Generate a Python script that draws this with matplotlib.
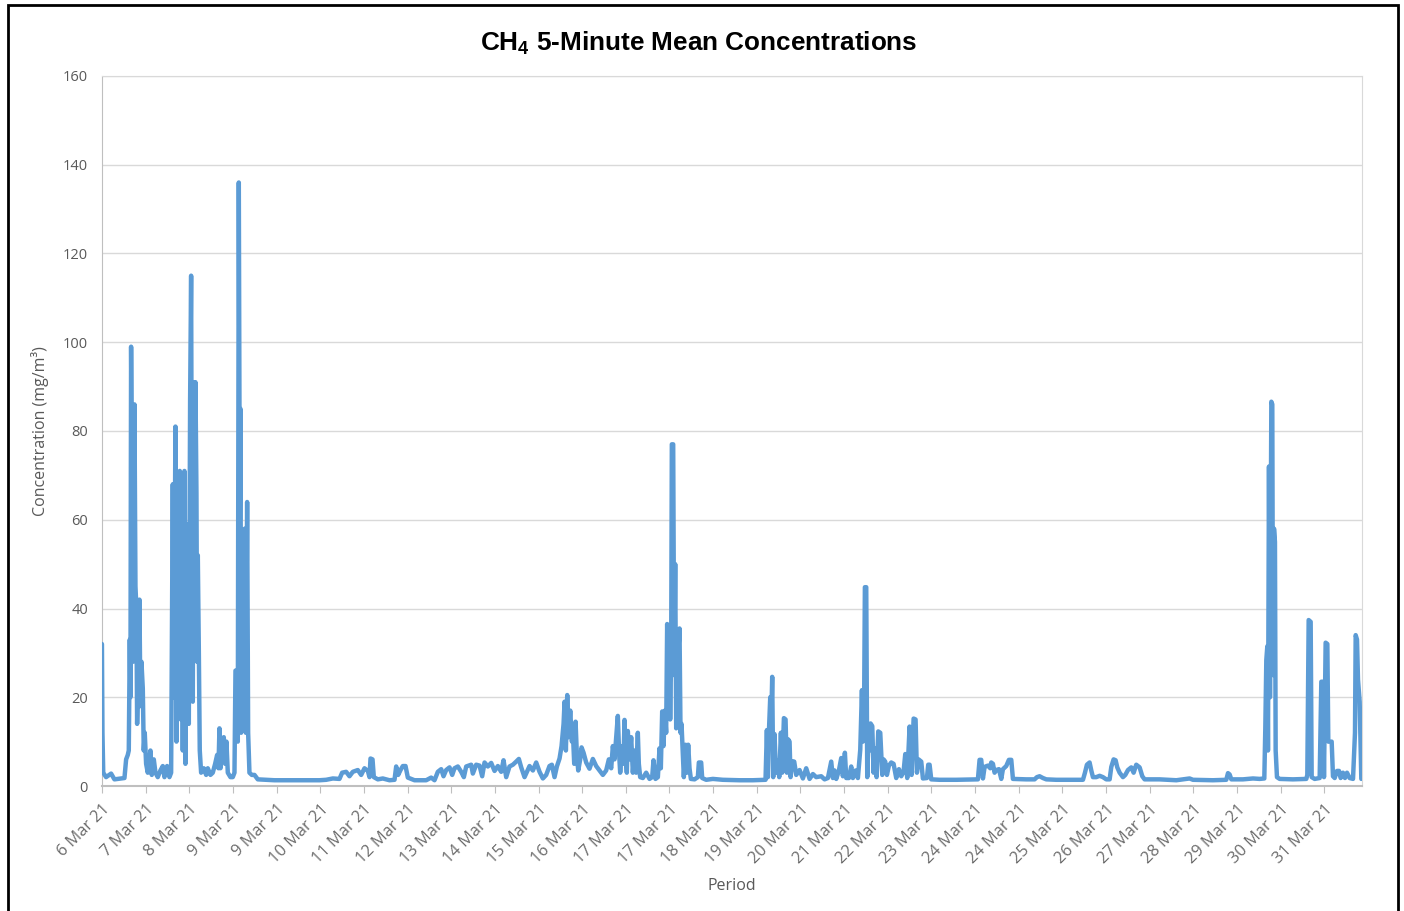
import matplotlib
matplotlib.use("Agg")
from matplotlib import pyplot as plt
from matplotlib.patches import Rectangle
import numpy as np

# x positions are in axis-label units (one unit per date label), values in mg/m3
pos_a = [0.0, 0.012, 0.030, 0.095, 0.210, 0.286, 0.516, 0.554, 0.592, 0.615, 0.638, 0.653, 0.668, 0.691,
         0.714, 0.745, 0.768, 0.790, 0.806, 0.836, 0.859, 0.882, 0.905, 0.936, 0.958, 0.981, 1.012, 1.050,
         1.088, 1.111, 1.142, 1.188, 1.226, 1.279, 1.340, 1.394, 1.432, 1.493, 1.546, 1.585, 1.623, 1.646,
         1.684, 1.707, 1.737, 1.760, 1.783, 1.806, 1.829, 1.852, 1.890, 1.913, 1.944, 1.967, 1.990, 2.020,
         2.043, 2.066, 2.081, 2.104, 2.127, 2.142, 2.165, 2.180, 2.196, 2.219, 2.241, 2.272, 2.333, 2.387,
         2.425, 2.486, 2.539, 2.593, 2.639, 2.669, 2.692, 2.715, 2.753, 2.791, 2.822, 2.852, 2.883, 2.944,
         2.997, 3.036, 3.059, 3.089, 3.112, 3.135, 3.158, 3.173, 3.188, 3.211, 3.234, 3.249, 3.272, 3.295,
         3.326, 3.349, 3.379, 3.433, 3.494, 3.570, 3.952]
conc_a = [32, 12, 3, 2, 2.8, 1.5, 1.8, 6, 7, 8, 33, 20, 99, 60,
          28, 86, 45, 40, 14, 28, 42, 18, 28, 22, 8, 12, 5, 3,
          6, 8, 2.5, 6, 3, 2, 3.5, 4.5, 2, 4.5, 2, 3, 68, 20,
          81, 10, 47, 17, 71, 15, 47, 8, 71, 5, 40, 59, 14, 87,
          115, 30, 19, 91, 40, 91, 66, 28, 52, 31, 8, 3, 4, 2.5,
          4, 2.5, 3, 5, 7, 4, 13, 4, 8, 11, 5, 10, 3, 2,
          2, 3, 26, 26, 10, 136, 60, 85, 12, 40, 50, 13, 58, 12,
          64, 12, 3, 2.5, 2.5, 1.5, 1.3]

pos_b = [4.983, 5.136, 5.289, 5.441, 5.502, 5.594, 5.670, 5.747, 5.861, 5.938, 6.014, 6.091, 6.129, 6.152,
         6.198, 6.228, 6.320, 6.434, 6.587, 6.702, 6.740, 6.786, 6.839, 6.893, 6.954, 7.007, 7.160, 7.427,
         7.542, 7.618, 7.694, 7.771, 7.824, 7.885, 7.962, 8.023, 8.076, 8.153, 8.229, 8.290, 8.344, 8.458,
         8.496, 8.573, 8.649, 8.710, 8.764, 8.840, 8.916, 8.993, 9.069, 9.145, 9.199, 9.260, 9.336, 9.413,
         9.489, 9.550, 9.604, 9.680, 9.795, 9.871, 9.947, 10.024, 10.100, 10.176, 10.252, 10.306, 10.367,
         10.421, 10.482, 10.528, 10.574, 10.597, 10.627, 10.658, 10.688, 10.727, 10.765, 10.788, 10.818,
         10.849, 10.879, 10.910, 10.955, 10.986, 11.032]
conc_b = [1.3, 1.4, 1.7, 1.6, 3.0, 3.2, 2.2, 3.2, 3.6, 2.5, 4.0, 3.4, 2, 6.2,
          6, 2, 1.5, 1.7, 1.3, 1.4, 4.4, 2.5, 3.6, 4.5, 4.5, 1.9, 1.3, 1.3,
          1.9, 1.3, 3.2, 3.8, 2.2, 3.6, 4.2, 2.5, 4.0, 4.4, 3.2, 2.0, 4.4, 4.8,
          2.8, 4.8, 4.6, 2.2, 5.3, 4.4, 5.2, 3.4, 4.5, 3.2, 5.8, 2, 4.4, 4.8,
          5.5, 6.1, 4.2, 2, 4.5, 3.5, 5.3, 3.2, 1.7, 2.5, 4.5, 4.8, 2,
          4.4, 6.2, 9, 14, 19, 8, 20.5, 11, 17, 10, 12, 5,
          14.5, 7, 3.5, 6, 8.7, 7.5]

pos_c = [11.092, 11.168, 11.245, 11.321, 11.397, 11.474, 11.550, 11.611, 11.665, 11.703, 11.741, 11.779,
         11.817, 11.848, 11.871, 11.917, 11.947, 11.970, 11.993, 12.023, 12.046, 12.085, 12.123, 12.161,
         12.199, 12.237, 12.275, 12.298, 12.329, 12.390, 12.466, 12.543, 12.604, 12.634, 12.680, 12.734,
         12.772, 12.802, 12.833, 12.863, 12.894, 12.924, 12.947, 12.970, 12.993, 13.016, 13.039, 13.054,
         13.085, 13.108, 13.131, 13.154, 13.177, 13.207, 13.230, 13.253, 13.276, 13.299, 13.329, 13.368,
         13.398, 13.429, 13.459, 13.490, 13.574, 13.650, 13.673, 13.726, 13.749, 13.841, 13.994, 14.223,
         14.605]
conc_c = [5.3, 3.9, 6.1, 4.5, 3.5, 2.5, 3.5, 6, 4, 9, 6, 11,
          15.8, 7, 3, 9, 5, 14.9, 8, 3, 12.4, 6, 11, 3,
          8, 3, 12, 5, 2, 1.8, 3, 1.6, 2, 5.8, 1.6, 2,
          8.5, 4, 16.8, 9, 17, 12, 36.5, 20, 36, 15, 30, 77,
          77, 25, 50, 13, 25, 31, 35.5, 12, 14, 9, 2, 9.3,
          3, 9.3, 4, 1.6, 1.5, 2, 5.3, 5.3, 1.8, 1.4, 1.6, 1.4,
          1.3]

pos_d = [14.910, 15.200, 15.231, 15.254, 15.277, 15.308, 15.330, 15.353, 15.376, 15.407, 15.437, 15.483,
         15.514, 15.552, 15.582, 15.621, 15.659, 15.689, 15.720, 15.751, 15.773, 15.812, 15.857, 15.903,
         15.980, 16.056, 16.132, 16.209, 16.285, 16.361, 16.476, 16.552, 16.629, 16.705, 16.743, 16.781,
         16.820, 16.881, 16.934, 16.972, 17.018, 17.049, 17.110, 17.163, 17.201, 17.262, 17.316, 17.370,
         17.408, 17.431, 17.454, 17.476, 17.507, 17.530, 17.561, 17.583, 17.606, 17.645, 17.675, 17.706,
         17.744, 17.782, 17.828, 17.874, 17.904, 17.942, 17.981, 18.026, 18.080, 18.133, 18.194, 18.256,
         18.309, 18.362, 18.401, 18.446, 18.500, 18.523, 18.546, 18.592, 18.637, 18.668, 18.706, 18.767,
         18.805, 18.897, 18.927, 18.958, 18.996, 19.187, 19.569]
conc_d = [1.3, 1.4, 12.6, 2, 12, 20, 14, 24.6, 2, 11.7, 3, 5.8,
          2, 12, 3, 15.3, 15, 3, 10.5, 10, 2, 5.6, 5.5, 2.5,
          3.6, 1.7, 4, 1.6, 2.7, 2, 2.2, 1.5, 1.8, 5.5, 1.8, 3.5,
          1.6, 3.5, 6.3, 2.2, 7.5, 1.8, 1.8, 4.4, 1.8, 3.5, 1.8, 8.2,
          21.6, 10, 12, 44.8, 44.8, 2, 12.3, 8, 14.1, 13.5, 3, 8.5,
          2, 12.3, 12, 2.5, 6, 5.5, 2.5, 4.6, 5.3, 5, 1.8, 3.8,
          2.2, 3.2, 7.2, 1.8, 13.4, 4, 2.5, 15.2, 15, 3, 6, 5.5,
          1.7, 1.8, 4.8, 4.8, 1.5, 1.4, 1.4]

pos_e = [20.065, 20.103, 20.141, 20.180, 20.218, 20.294, 20.348, 20.370, 20.409, 20.447, 20.485, 20.546,
         20.600, 20.638, 20.714, 20.775, 20.829, 20.867, 21.172, 21.363, 21.417, 21.478, 21.554, 21.631,
         21.860, 22.471, 22.517, 22.562, 22.623, 22.662, 22.700, 22.776, 22.853, 22.929, 23.005, 23.082,
         23.120, 23.173, 23.219, 23.257, 23.311, 23.387, 23.441, 23.502, 23.578, 23.632, 23.692, 23.769,
         23.830, 23.883, 24.227, 24.609, 24.914, 24.991, 25.449, 25.754, 25.793, 25.831, 25.869, 26.136]
conc_e = [1.5, 5.9, 5.9, 1.7, 4.3, 4.6, 4, 5.3, 5, 3, 3.6, 3.8,
          1.6, 3.8, 4.5, 5.9, 5.9, 1.6, 1.5, 1.5, 2, 2.2, 1.8, 1.5,
          1.4, 1.4, 3, 4.8, 5.3, 3.5, 2, 2, 2.3, 2, 1.5, 1.5,
          4.3, 6, 5.8, 4.2, 3, 2, 2.5, 3.6, 4.2, 3, 4.8, 4.2,
          2.2, 1.5, 1.5, 1.3, 1.7, 1.4, 1.3, 1.4, 2.9, 2.6, 1.5, 1.5]

pos_f = [26.365, 26.518, 26.625, 26.648, 26.671, 26.694, 26.709, 26.732, 26.755, 26.786, 26.808, 26.824,
         26.847, 26.869, 26.885, 26.915, 26.976, 27.282, 27.587, 27.610, 27.641, 27.687, 27.710, 27.778,
         27.893, 27.931, 27.969, 27.992, 28.030, 28.069, 28.091, 28.122, 28.168, 28.198, 28.237, 28.290,
         28.336, 28.374, 28.427, 28.473, 28.519, 28.580, 28.657, 28.702, 28.718, 28.748, 28.771, 28.809,
         28.847]
conc_f = [1.7, 1.6, 1.7, 13, 28.4, 31.5, 8, 72, 20, 86.6, 86, 25,
          58, 55, 8, 2, 1.6, 1.5, 1.6, 2.5, 37.4, 37, 2, 1.6,
          1.8, 23.5, 23.5, 2, 32.3, 32, 10, 10, 10, 2.2, 1.8, 3.4,
          3.4, 1.8, 3, 1.8, 3, 1.8, 1.6, 12, 34, 33, 24, 19,
          1.6]

date_labels = ['6 Mar 21', '7 Mar 21', '8 Mar 21', '9 Mar 21', '9 Mar 21', '10 Mar 21', '11 Mar 21',
               '12 Mar 21', '13 Mar 21', '14 Mar 21', '15 Mar 21', '16 Mar 21', '17 Mar 21', '17 Mar 21',
               '18 Mar 21', '19 Mar 21', '20 Mar 21', '21 Mar 21', '22 Mar 21', '23 Mar 21', '24 Mar 21',
               '24 Mar 21', '25 Mar 21', '26 Mar 21', '27 Mar 21', '28 Mar 21', '29 Mar 21', '30 Mar 21',
               '31 Mar 21']

pos = pos_a + pos_b + pos_c + pos_d + pos_e + pos_f
conc = conc_a + conc_b + conc_c + conc_d + conc_e + conc_f

plt.rcParams['font.family'] = ['Open Sans', 'DejaVu Sans']
plt.rcParams['mathtext.fontset'] = 'custom'
plt.rcParams['mathtext.rm'] = 'Liberation Sans:bold'

fig = plt.figure(figsize=(14.04, 9.11), dpi=100)
ax = fig.add_axes([0.0726, 0.1372, 0.8974, 0.7794])

ax.plot(pos, conc, color='#5B9BD5', lw=3.2, solid_joinstyle='round', solid_capstyle='round', zorder=3)

ax.set_xlim(0, 28.86)
ax.set_ylim(0, 160)
ax.set_yticks(np.arange(0, 161, 20))
ax.set_xticks(np.arange(len(date_labels)))
ax.set_xticklabels(date_labels, rotation=45, ha='right', rotation_mode='anchor')
ax.grid(axis='y', color='#D9D9D9', lw=1)
ax.set_axisbelow(True)

for s in ['top', 'right']:
    ax.spines[s].set_color('#D9D9D9')
ax.spines['left'].set_color('#BFBFBF')
ax.spines['bottom'].set_color('#BFBFBF')
ax.spines['bottom'].set_linewidth(1.5)
ax.tick_params(axis='y', length=0, labelsize=10.5, labelcolor='#595959', pad=10)
ax.tick_params(axis='x', length=5, color='#BFBFBF', labelsize=11.8, labelcolor='#6b6b6b', pad=6)

ax.set_ylabel('Concentration (mg/m³)', fontsize=11.5, color='#595959', labelpad=10)
ax.set_xlabel('Period', fontsize=11.5, color='#595959', labelpad=8)

fig.text(0.498, 0.953, r'CH$_4$ 5-Minute Mean Concentrations', ha='center', va='center',
         fontsize=18.8, fontweight='bold', family='Liberation Sans')

fig.add_artist(Rectangle((0.0055, -0.01), 0.99, 1.004, transform=fig.transFigure,
                         fill=False, ec='black', lw=2))

fig.savefig('out.png', dpi=100)
